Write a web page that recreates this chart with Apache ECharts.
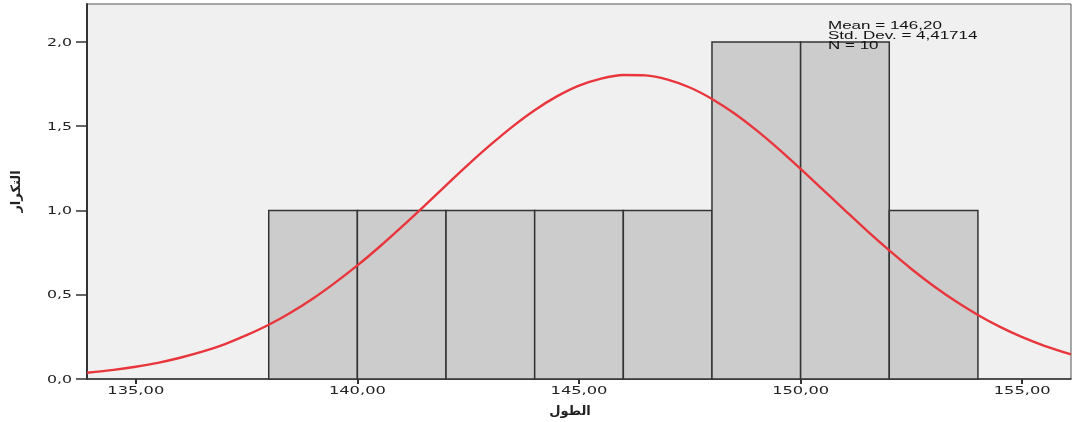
<!DOCTYPE html>
<html>
<head>
<meta charset="utf-8">
<script src="https://cdn.jsdelivr.net/npm/echarts@6/dist/echarts.min.js"></script>
<style>
  html, body { margin: 0; padding: 0; background: #ffffff; }
  #chart { width: 1073px; height: 422px; }
</style>
</head>
<body>
<div id="chart"></div>
<script>
// Histogram bins of height (الطول): lower edge of each bin, width 2
const binStarts = [138, 140, 142, 144, 146, 148, 150, 152];
const binWidth = 2;
const binCounts = [1, 1, 1, 1, 1, 2, 2, 1];

// Normal curve read along the x range, every half unit
const curveX = [133.9, 134.5, 135, 135.5, 136, 136.5, 137, 137.5, 138, 138.5, 139, 139.5,
                140, 140.5, 141, 141.5, 142, 142.5, 143, 143.5, 144, 144.5, 145, 145.5,
                146, 146.5, 147, 147.5, 148, 148.5, 149, 149.5, 150, 150.5, 151, 151.5,
                152, 152.5, 153, 153.5, 154, 154.5, 155, 155.5, 156.1];
const curveY = [0.037, 0.054, 0.073, 0.096, 0.126, 0.162, 0.206, 0.260, 0.322, 0.395, 0.478, 0.572,
                0.674, 0.785, 0.903, 1.025, 1.149, 1.272, 1.389, 1.498, 1.595, 1.677, 1.741, 1.783,
                1.804, 1.802, 1.777, 1.730, 1.662, 1.577, 1.477, 1.366, 1.247, 1.124, 1.001, 0.879,
                0.763, 0.653, 0.552, 0.461, 0.380, 0.309, 0.248, 0.197, 0.146];

// Axis ticks and labels
const xTicks = [135, 140, 145, 150, 155];
const yTicks = [0, 0.5, 1.0, 1.5, 2.0];
const statsLines = ['Mean = 146,20', 'Std. Dev. = 4,41714', 'N = 10'];

const fmtComma = (v, d) => v.toFixed(d).replace('.', ',');
const tickFont = '10.5px "DejaVu Sans"';

const chart = echarts.init(document.getElementById('chart'), null, { renderer: 'canvas' });

const barData = binStarts.map((s, i) => [s, s + binWidth, binCounts[i]]);
const lineData = curveX.map((x, i) => [x, curveY[i]]);

const option = {
  animation: false,
  backgroundColor: '#ffffff',
  textStyle: { fontFamily: 'DejaVu Sans' },
  grid: {
    left: 87, right: 2, top: 4, bottom: 43,
    outerBoundsMode: 'none',
    containLabel: false,
    show: true,
    backgroundColor: '#F0F0F0',
    borderColor: '#555555',
    borderWidth: 1
  },
  xAxis: {
    type: 'value',
    min: 133.9,
    max: 156.1,
    name: 'الطول',
    nameLocation: 'middle',
    nameGap: 26,
    nameTextStyle: {
      fontFamily: 'DejaVu Sans', fontWeight: 'bold', fontSize: 13, color: '#222',
      padding: [0, 18, 0, 0]
    },
    axisLine: { show: true, onZero: false, lineStyle: { color: '#333', width: 1.5 } },
    axisTick: { show: true, customValues: xTicks, length: 5, lineStyle: { color: '#333', width: 2 } },
    axisLabel: { show: false },
    splitLine: { show: false }
  },
  yAxis: {
    type: 'value',
    min: 0,
    max: 2.2255,
    name: 'التكرار',
    nameLocation: 'middle',
    nameGap: 64,
    nameRotate: 90,
    nameTextStyle: { fontFamily: 'DejaVu Sans', fontWeight: 'bold', fontSize: 13, color: '#222' },
    axisLine: { show: true, lineStyle: { color: '#333', width: 2 } },
    axisTick: { show: true, customValues: yTicks, length: 11, lineStyle: { color: '#333', width: 1.5 } },
    axisLabel: { show: false },
    splitLine: { show: false }
  },
  series: [
    {
      type: 'custom',
      name: 'bins',
      data: barData,
      encode: { x: [0, 1], y: 2 },
      renderItem: function (params, api) {
        const p0 = api.coord([api.value(0), 0]);
        const p1 = api.coord([api.value(1), api.value(2)]);
        return {
          type: 'rect',
          shape: { x: p0[0], y: p1[1], width: p1[0] - p0[0], height: p0[1] - p1[1] },
          style: { fill: '#CCCCCC', stroke: '#333333', lineWidth: 1.5 }
        };
      },
      z: 2
    },
    {
      type: 'line',
      name: 'normal',
      data: lineData,
      smooth: 0.3,
      showSymbol: false,
      clip: true,
      lineStyle: { color: '#E8363C', width: 2.4 },
      z: 3
    }
  ]
};

chart.setOption(option);

// Tick labels are drawn as wide-set text at positions taken from the axes
const xAxisBottom = chart.convertToPixel({ yAxisIndex: 0 }, 0);
const xLabelEls = xTicks.map(v => ({
  type: 'text',
  x: chart.convertToPixel({ xAxisIndex: 0 }, v),
  y: xAxisBottom + 12,
  scaleX: 1.55,
  z: 10,
  style: { text: fmtComma(v, 2), font: tickFont, fill: '#222', align: 'center', verticalAlign: 'middle' }
}));
const yAxisLeft = chart.convertToPixel({ xAxisIndex: 0 }, 133.9);
const yLabelEls = yTicks.map(v => ({
  type: 'text',
  x: yAxisLeft - 15,
  y: chart.convertToPixel({ yAxisIndex: 0 }, v) + 1,
  scaleX: 1.5,
  z: 10,
  style: { text: fmtComma(v, 1), font: tickFont, fill: '#222', align: 'right', verticalAlign: 'middle' }
}));
const statsEl = {
  type: 'text',
  left: 828,
  top: 21,
  z: 10,
  scaleX: 1.7,
  style: {
    text: statsLines.join('\n'),
    font: '10px "Liberation Sans"',
    lineHeight: 10,
    fill: '#111111'
  }
};

chart.setOption({ graphic: [...xLabelEls, ...yLabelEls, statsEl] });
</script>
</body>
</html>
